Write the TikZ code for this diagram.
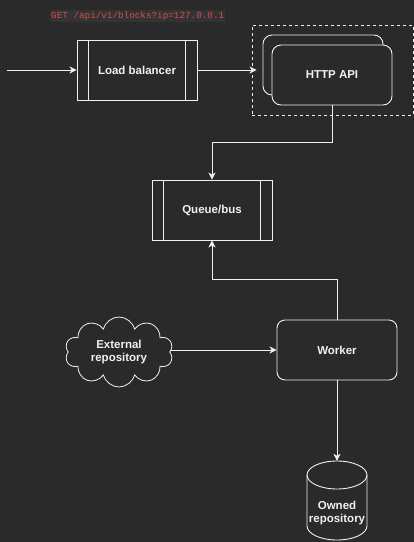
\documentclass[tikz,border=0pt]{standalone}
\usepackage{fontspec}
\setmainfont{Liberation Sans}
\setmonofont{Liberation Mono}
\usetikzlibrary{arrows.meta,shapes.symbols,calc}
\definecolor{bg}{HTML}{2A2A2A}
\definecolor{fg}{HTML}{F0F0F0}
\definecolor{codebg}{HTML}{333333}
\definecolor{codered}{HTML}{D24F4F}
\tikzset{
  lbl/.style={text=fg,font=\fontsize{11.5}{13.5}\selectfont\bfseries,align=center},
  procbox/.style={draw=fg,line width=0.9pt,minimum width=120pt,minimum height=60pt,inner sep=0pt,lbl},
  roundbox/.style={draw=fg,line width=0.9pt,rounded corners=9pt,minimum width=120pt,minimum height=60pt,inner sep=0pt,lbl,fill=bg},
  conn/.style={draw=fg,line width=0.9pt,-{Stealth[length=7pt,width=7pt,inset=2pt]}},
  plain/.style={draw=fg,line width=0.9pt},
}
\begin{document}
\begin{tikzpicture}[x=1pt,y=-1pt]
\fill[bg] (0,0) rectangle (414,542);
\useasboundingbox (0,0) rectangle (414,542);
% code label
\node[fill=codebg,text=codered,font=\ttfamily\fontsize{9.3}{11}\selectfont,inner xsep=1pt,inner ysep=2pt,anchor=west] (req) at (50,16) {GET /api/v1/blocks?ip=127.0.0.1};
% load balancer
\node[procbox] (lb) at (137,70) {Load balancer};
\draw[plain] ($(lb.north west)+(12,0)$) -- ($(lb.south west)+(12,0)$);
\draw[plain] ($(lb.north east)+(-12,0)$) -- ($(lb.south east)+(-12,0)$);
\coordinate (in) at (7,70);
\draw[conn] (in) -- (lb.west);
% HTTP API group
\node[draw=fg,dashed,line width=0.9pt,minimum width=161pt,minimum height=90pt,inner sep=0pt] (grp) at (332.5,70) {};
\node[roundbox] (apiback) at (323,65) {};
\node[roundbox] (api) at (332,75) {HTTP API};
\coordinate (apiin) at ($(lb.east -| apiback.west)+(-6,0)$);
\draw[conn] (lb.east) -- (apiin);
% queue
\node[procbox] (queue) at (212,210) {Queue/bus};
\draw[plain] ($(queue.north west)+(12,0)$) -- ($(queue.south west)+(12,0)$);
\draw[plain] ($(queue.north east)+(-12,0)$) -- ($(queue.south east)+(-12,0)$);
\draw[conn] (api.south) -- ++(0,37) -| (queue.north);
% worker
\node[roundbox,rounded corners=8pt] (worker) at (337,350) {Worker};
\draw[conn] (worker.north) -- ++(0,-40) -| (queue.south);
% cloud
\node[cloud,cloud puffs=10,aspect=1.6,draw=fg,line width=0.8pt,minimum width=108pt,minimum height=70pt,inner sep=0pt,lbl] (ext) at (119,352) {External\\repository};
\draw[conn] (ext.east |- worker.west) -- (worker.west);
% owned repository cylinder
\node[minimum width=60pt,minimum height=79pt,inner sep=0pt] (owned) at (337,500.5) {};
\draw[plain,fill=bg] (307,475) -- (307,526) arc[start angle=180,end angle=360,x radius=30pt,y radius=14pt] -- (367,475);
\draw[plain] (337,475) ellipse[x radius=30pt,y radius=14pt];
\node[lbl] (ownedlbl) at (337,513) {Owned\\repository};
\draw[conn] (worker.south) -- (owned.north);
\end{tikzpicture}
\end{document}
